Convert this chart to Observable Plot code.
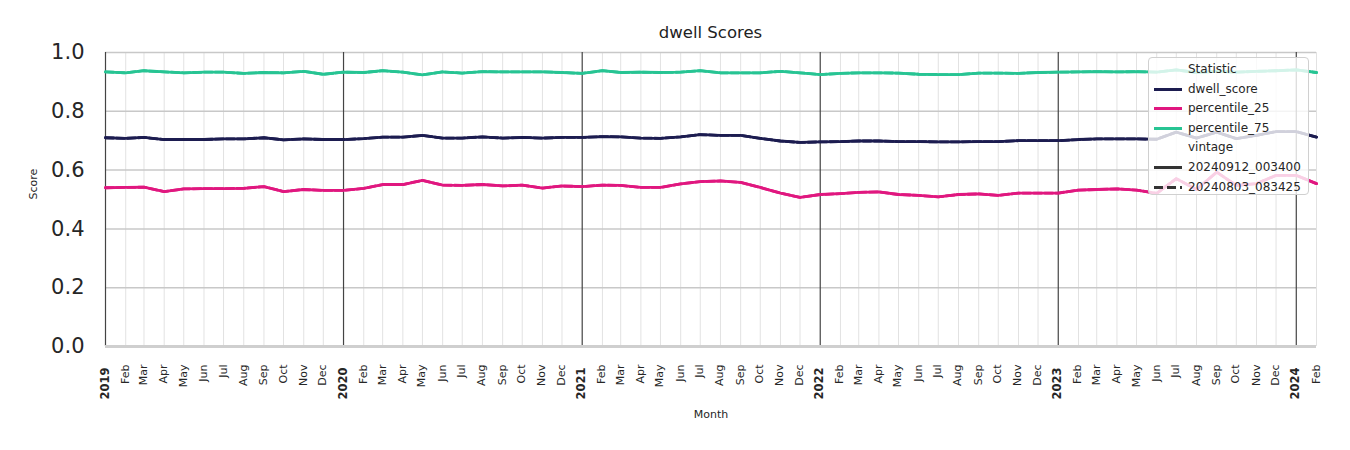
<!DOCTYPE html>
<html>
<head>
<meta charset="utf-8">
<script src="https://cdn.jsdelivr.net/npm/d3@7"></script>
<script src="https://cdn.jsdelivr.net/npm/@observablehq/plot@0.6"></script>
<style>
  body { margin: 0; background: #fff; font-family: "DejaVu Sans", sans-serif; }
  #wrap { position: relative; width: 1350px; height: 450px; overflow: hidden; }
  #title { position: absolute; left: 105px; width: 1211px; top: 23px; text-align: center; font-size: 16.5px; color: #222; line-height: 20px; }
  #chart { position: absolute; left: 0; top: 42px; }
  #legend { position: absolute; left: 1148px; top: 57px; width: 159px; height: 136px; background: rgba(255,255,255,0.8); border: 1.5px solid #d0d0d0; border-radius: 4px; font-size: 12px; color: #262626; }
  .row { position: absolute; left: 0; height: 16px; line-height: 16px; white-space: nowrap; }
  .row svg { position: absolute; left: 4px; top: 0; }
  .row span { position: absolute; left: 39px; top: 0; }
</style>
</head>
<body>
<div id="wrap">
  <div id="title">dwell Scores</div>
  <div id="chart"></div>
  <div id="legend"></div>
</div>
<script>
// ---- data ----
const monthNames = ["Jan","Feb","Mar","Apr","May","Jun","Jul","Aug","Sep","Oct","Nov","Dec"];
const statistics = ["dwell_score", "percentile_25", "percentile_75"];
const statColors = ["#1c1c50", "#e0177f", "#27c493"];
const vintages = ["20240912_003400", "20240803_083425"];
const firstMonth = [2019, 0];
const lastMonth = [2024, 1];

const dwellScore = [
  .710,.708,.711,.704,.704,.704,.706,.706,.710,.703,.706,.704,
  .704,.707,.712,.712,.718,.709,.709,.713,.709,.711,.709,.711,
  .711,.714,.713,.709,.708,.713,.721,.718,.718,.708,.699,.694,
  .696,.697,.699,.699,.697,.697,.696,.696,.697,.697,.700,.700,
  .700,.704,.706,.706,.706,.705,.729,.709,.729,.707,.718,.731,
  .731,.712
];
const percentile25 = [
  .540,.541,.542,.527,.536,.537,.537,.538,.544,.527,.534,.531,
  .531,.538,.551,.551,.565,.549,.548,.551,.546,.549,.539,.546,
  .544,.549,.548,.541,.541,.553,.561,.563,.558,.541,.522,.507,
  .517,.520,.524,.526,.517,.514,.509,.517,.519,.514,.522,.522,
  .522,.532,.534,.536,.532,.521,.571,.534,.593,.548,.554,.582,
  .582,.554
];
const percentile75 = [
  .934,.931,.938,.934,.931,.933,.933,.929,.932,.931,.936,.926,
  .933,.932,.938,.933,.924,.934,.930,.935,.934,.934,.934,.932,
  .929,.938,.932,.933,.932,.933,.938,.931,.931,.931,.936,.931,
  .925,.929,.931,.931,.930,.926,.925,.925,.930,.930,.929,.932,
  .933,.934,.935,.934,.935,.933,.941,.932,.936,.933,.936,.938,
  .941,.932
];
// the older vintage coincides with the newer one in the picture
const dwellScoreOld = dwellScore.slice();
const percentile25Old = percentile25.slice();
const percentile75Old = percentile75.slice();
const yTicks = [0, 0.2, 0.4, 0.6, 0.8, 1.0];

// ---- build tables ----
const start = new Date(Date.UTC(firstMonth[0], firstMonth[1], 1));
const end = new Date(Date.UTC(lastMonth[0], lastMonth[1], 1));
const dates = d3.utcMonth.range(start, d3.utcMonth.offset(end, 1));
const seriesNew = [dwellScore, percentile25, percentile75];
const seriesOld = [dwellScoreOld, percentile25Old, percentile75Old];
function rowsFor(series, vintage) {
  const rows = [];
  series.forEach((vals, i) => vals.forEach((v, j) => rows.push({date: dates[j], value: v, stat: statistics[i], vintage})));
  return rows;
}
const rowsNew = rowsFor(seriesNew, vintages[0]);
const rowsOld = rowsFor(seriesOld, vintages[1]);
const ticks = dates.map(d => ({date: d, label: d.getUTCMonth() === 0 ? String(d.getUTCFullYear()) : monthNames[d.getUTCMonth()], year: d.getUTCMonth() === 0}));
const monthTicks = ticks.filter(t => !t.year);
const yearTicks = ticks.filter(t => t.year);

const chart = Plot.plot({
  width: 1350,
  height: 408,
  marginTop: 10,
  marginBottom: 104,
  marginLeft: 105,
  marginRight: 34,
  style: {fontFamily: "DejaVu Sans, sans-serif", background: "white", overflow: "visible"},
  x: {type: "utc", domain: [start, end], axis: null},
  y: {domain: [0, 1], axis: null},
  color: {domain: statistics, range: statColors},
  marks: [
    Plot.ruleX(monthTicks, {x: "date", stroke: "#e2e2e2", strokeWidth: 1}),
    Plot.ruleY(yTicks.filter(t => t > 0), {y: d => d, stroke: "#c8c8c8", strokeWidth: 1.5}),
    Plot.ruleX(yearTicks, {x: "date", stroke: "#444", strokeWidth: 1.2}),
    Plot.ruleY([0], {stroke: "#cfcfcf", strokeWidth: 3}),
    Plot.axisY({ticks: yTicks, tickFormat: ".1f", tickSize: 0, tickPadding: 21, fontSize: 21, color: "#262626", label: null}),
    Plot.text(monthTicks, {x: "date", text: "label", frameAnchor: "bottom", rotate: -90, textAnchor: "end", dx: 3, dy: 18, fontSize: 11, fill: "#262626"}),
    Plot.text(yearTicks, {x: "date", text: "label", frameAnchor: "bottom", rotate: -90, textAnchor: "end", dx: 3, dy: 21, fontSize: 11.5, fontWeight: "bold", fill: "#262626"}),
    Plot.text(["Score"], {frameAnchor: "left", dx: -72, rotate: -90, fontSize: 11, fill: "#262626"}),
    Plot.text(["Month"], {frameAnchor: "bottom", dy: 71, fontSize: 11, fill: "#262626"}),
    Plot.line(rowsOld, {x: "date", y: "value", z: "stat", stroke: "stat", strokeWidth: 2.8, strokeDasharray: "8,3"}),
    Plot.line(rowsNew, {x: "date", y: "value", z: "stat", stroke: "stat", strokeWidth: 2.8})
  ]
});
document.getElementById("chart").appendChild(chart);

// ---- legend ----
const legend = document.getElementById("legend");
const entries = [
  {label: "Statistic", header: true},
  ...statistics.map((s, i) => ({label: s, color: statColors[i], dash: null})),
  {label: "vintage", header: true},
  {label: vintages[0], color: "#333", dash: null},
  {label: vintages[1], color: "#333", dash: "9,4"}
];
entries.forEach((e, i) => {
  const row = document.createElement("div");
  row.className = "row";
  row.style.top = (3 + i * 19.6) + "px";
  if (!e.header) {
    row.innerHTML = `<svg width="30" height="16"><line x1="1" x2="29" y1="8.5" y2="8.5" stroke="${e.color}" stroke-width="3" ${e.dash ? `stroke-dasharray="${e.dash}"` : ""}/></svg>`;
  }
  const sp = document.createElement("span");
  sp.textContent = e.label;
  row.appendChild(sp);
  legend.appendChild(row);
});
</script>
</body>
</html>
